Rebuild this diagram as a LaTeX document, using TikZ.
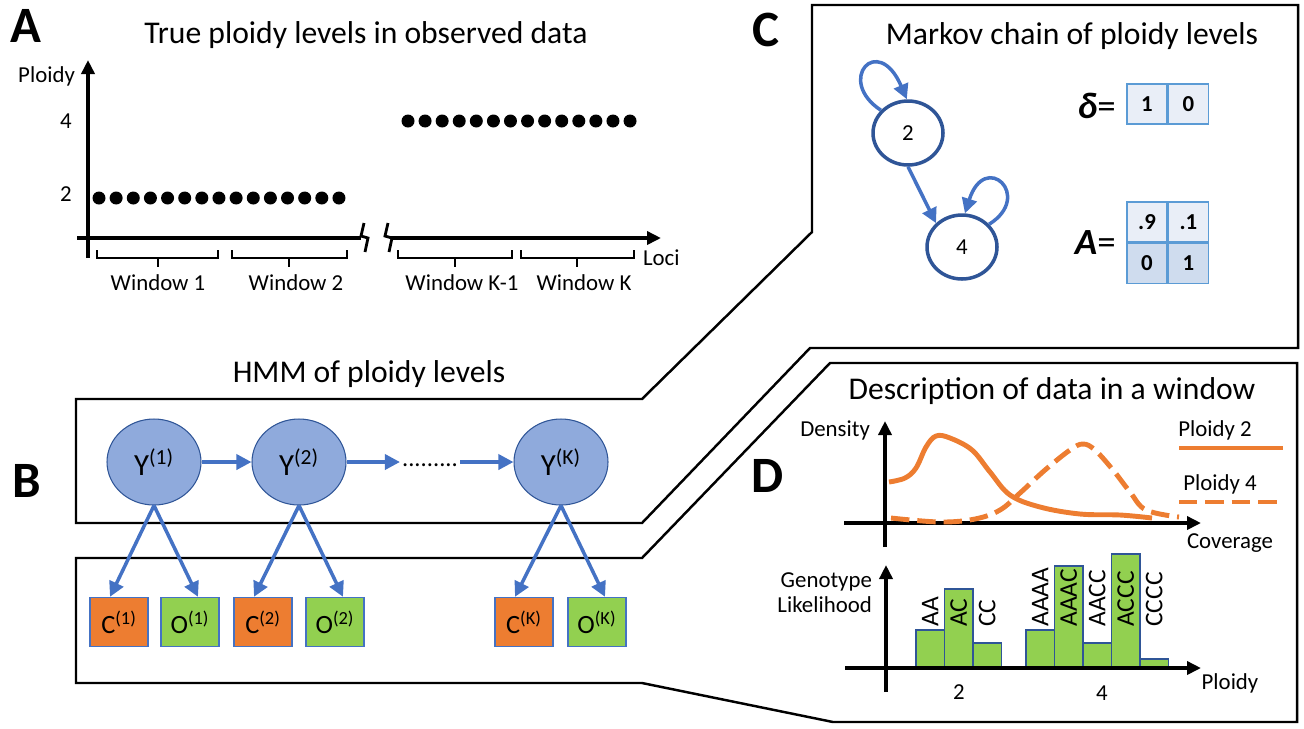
\documentclass[tikz,border=0pt]{standalone}
\usepackage{fontspec}
\setmainfont{Carlito}
\usepackage{tikz}
\usetikzlibrary{shapes.geometric, arrows.meta, positioning, calc}
\usepackage{xcolor}

\definecolor{linkblue}{HTML}{4472C4}
\definecolor{edgeblue}{HTML}{2F5597}
\definecolor{hidfill}{HTML}{8FAADC}
\definecolor{cellline}{HTML}{5B9BD5}
\definecolor{celltop}{HTML}{E9EEF7}
\definecolor{cellbot}{HTML}{CFDCEE}
\definecolor{covorange}{HTML}{ED7D31}
\definecolor{obsgreen}{HTML}{92D050}

\newcommand{\pfs}[1]{\fontsize{#1}{#1}\selectfont}

\begin{document}
\begin{tikzpicture}[x=0.02cm, y=-0.02cm,
  plabel/.style={font=\pfs{29}\bfseries, inner sep=0pt},
  ptitle/.style={font=\pfs{18}, inner sep=0pt},
  axtext/.style={font=\pfs{13}, inner sep=1pt},
  axisline/.style={line width=2.2pt, -{Triangle[length=2.8mm, width=2.6mm]}},
  plainline/.style={line width=2.2pt},
  winbrace/.style={line width=1.1pt},
  boltline/.style={line width=1.6pt},
  calloutframe/.style={line width=1.4pt, line join=miter},
  hidden/.style={ellipse, fill=hidfill, draw=edgeblue, line width=0.6pt,
    minimum width=1.88cm, minimum height=1.72cm, inner sep=0pt, font=\pfs{17.5}},
  obsbox/.style={rectangle, draw=linkblue, line width=0.8pt,
    minimum width=1.16cm, minimum height=0.98cm, inner sep=0pt, font=\pfs{15}},
  link/.style={draw=linkblue, line width=2pt, -{Triangle[length=3mm, width=3mm]}},
  mstate/.style={ellipse, draw=edgeblue, line width=2pt,
    minimum width=1.4cm, minimum height=1.28cm, inner sep=0pt, font=\pfs{13}},
  cell/.style={rectangle, draw=cellline, line width=0.8pt,
    minimum width=0.8cm, minimum height=0.8cm, inner sep=0pt, font=\pfs{13}\bfseries},
  dens/.style={draw=covorange, line width=2.8pt},
  gbar/.style={draw=edgeblue, line width=0.6pt, fill=obsgreen},
  gtext/.style={font=\pfs{14.5}, rotate=90, anchor=west, inner sep=0pt}
]
\useasboundingbox (0,0) rectangle (1304,728);

% A: ploidy along the loci
\node[plabel] (lblA) at (26,26) {A};
\node[ptitle] (titleA) at (366,35) {True ploidy levels in observed data};
\draw[axisline] (88,258) -- (88,60);
\node[axtext, anchor=east] (ploidyA) at (77,76) {Ploidy};
\node[axtext] (tick4) at (66,121) {4};
\node[axtext] (tick2) at (66,194) {2};
\foreach \i in {0,...,14} \fill (99+17.14*\i,198) circle (0.13cm);
\foreach \i in {0,...,13} \fill (408+17.08*\i,121) circle (0.13cm);
\draw[plainline] (77,238) -- (361,238);
\draw[boltline] (364,223) -- (361,236) -- (368,238) -- (365,252);
\draw[boltline] (388,223) -- (385,236) -- (392,238) -- (389,252);
\draw[axisline] (391,238) -- (661,238);
\foreach \a/\b/\m in {97/218/158, 232/347/289, 398/512/455, 521/634/577} {
  \draw[winbrace] (\a,250) -- (\a,258) -- (\b,258) -- (\b,250);
  \draw[winbrace] (\m,258) -- (\m,267);
}
\node[axtext] (win1) at (158,283) {Window 1};
\node[axtext] (win2) at (296,283) {Window 2};
\node[axtext] (winK1) at (462,283) {Window K-1};
\node[axtext] (winK) at (584,283) {Window K};
\node[axtext, anchor=west] (loci) at (641,258) {Loci};

% callout frames joining B with C and D
\draw[calloutframe] (812,5) -- (1298,5) -- (1298,348) -- (810,348) -- (642,523)
  -- (76,523) -- (76,399) -- (642,399) -- (812,232) -- cycle;
\draw[calloutframe] (830,363) -- (1297,363) -- (1297,722) -- (833,722) -- (642,683)
  -- (76,683) -- (76,558) -- (642,558) -- cycle;

% B: the HMM
\node[plabel] (lblB) at (27,481) {B};
\node[ptitle] (titleB) at (369,374) {HMM of ploidy levels};
\node[hidden] (y1) at (154,462) {Y\textsuperscript{(1)}};
\node[hidden] (y2) at (299,462) {Y\textsuperscript{(2)}};
\node[hidden] (yk) at (561,462) {Y\textsuperscript{(K)}};
\node[font=\pfs{14}, inner sep=1pt] (ydots) at (430,465) {.........};
\draw[link] (y1) -- (y2);
\draw[link] (y2.east) -- (y2.east -| ydots.west);
\draw[link] (yk.west -| ydots.east) -- (yk.west);
\node[obsbox, fill=covorange] (c1) at (119,622) {C\textsuperscript{(1)}};
\node[obsbox, fill=obsgreen] (o1) at (190,622) {O\textsuperscript{(1)}};
\node[obsbox, fill=covorange] (c2) at (263,622) {C\textsuperscript{(2)}};
\node[obsbox, fill=obsgreen] (o2) at (335,622) {O\textsuperscript{(2)}};
\node[obsbox, fill=covorange] (ck) at (524,622) {C\textsuperscript{(K)}};
\node[obsbox, fill=obsgreen] (ok) at (597,622) {O\textsuperscript{(K)}};
\foreach \y/\c/\o in {y1/c1/o1, y2/c2/o2, yk/ck/ok} {
  \draw[link] (\y.south) -- ([xshift=-0.18cm]\c.north);
  \draw[link] (\y.south) -- ([xshift=0.16cm]\o.north);
}

% C: Markov chain
\node[plabel] (lblC) at (766,30) {C};
\node[ptitle] (titleC) at (1072,36) {Markov chain of ploidy levels};
\node[mstate] (s2) at (908,133) {2};
\node[mstate] (s4) at (962,247) {4};
\draw[link] (s2.south) -- (s4.north west);
\draw[link] (s2.140) .. controls (835,80) and (878,32) .. (s2.92);
\draw[link] (s4.40) .. controls (1034,196) and (985,150) .. (s4.85);
\node[font=\pfs{21}, anchor=east, inner sep=0pt] (deltalab) at (1116,106) {\textbf{\textit{δ}}=};
\node[cell, fill=celltop] (d1) at (1147,104) {1};
\node[cell, fill=celltop, right=0pt of d1] (d2) {0};
\node[font=\pfs{21}, anchor=east, inner sep=0pt] (alab) at (1116,243) {\textbf{\textit{A}}=};
\node[cell, fill=celltop] (a11) at (1147,222) {.9};
\node[cell, fill=celltop, right=0pt of a11] (a12) {.1};
\node[cell, fill=cellbot, below=0pt of a11] (a21) {0};
\node[cell, fill=cellbot, right=0pt of a21] (a22) {1};

% D: data in one window
\node[plabel] (lblD) at (768,476) {D};
\node[ptitle] (titleD) at (1052,391) {Description of data in a window};
\draw[axisline] (885,547) -- (885,421);
\draw[axisline] (844,523) -- (1201,523);
\node[axtext, anchor=east] (density) at (872,430) {Density};
\node[axtext] (coverage) at (1230,543) {Coverage};
\node[axtext] (leg2) at (1215,430) {Ploidy 2};
\node[axtext] (leg4) at (1220,484) {Ploidy 4};
\draw[dens] (1179,448) -- (1283,448);
\draw[dens, dash pattern=on 10.5pt off 4.5pt] (1179,502) -- (1283,502);
\draw[dens] plot[smooth, tension=0.6] coordinates {(889,482) (905,478) (916,468)
  (926,447) (936,436) (950,438) (972,450) (990,472) (1010,495) (1040,507)
  (1080,514) (1120,515) (1152,518)};
\draw[dens, dash pattern=on 10.5pt off 4.5pt] plot[smooth, tension=0.6] coordinates {
  (891,518) (940,522) (975,519) (1000,510) (1020,493) (1045,470) (1070,450)
  (1083,444) (1095,450) (1113,470) (1130,492) (1146,510) (1179,517)};
\foreach \x/\h/\t in {916/630/AA, 944.5/589/AC, 973/643/CC, 1026/630/AAAA,
    1054.5/566/AAAC, 1083/643/AACC, 1111.5/554/ACCC, 1140/659/CCCC} {
  \draw[gbar] (\x,\h) rectangle ({\x+28.5},668);
  \node[gtext] (g\t) at ({\x+14.25},627) {\t};
}
\draw[axisline] (886,692) -- (886,565);
\draw[axisline] (845,668) -- (1201,668);
\node[font={\fontsize{13}{14.2}\selectfont}, align=right, anchor=east, inner sep=1pt] (glik) at (874,593) {Genotype\\Likelihood};
\node[axtext] (ploidyD) at (1230,683) {Ploidy};
\node[axtext] (xt2) at (959,692) {2};
\node[axtext] (xt4) at (1102,693) {4};
\end{tikzpicture}
\end{document}
